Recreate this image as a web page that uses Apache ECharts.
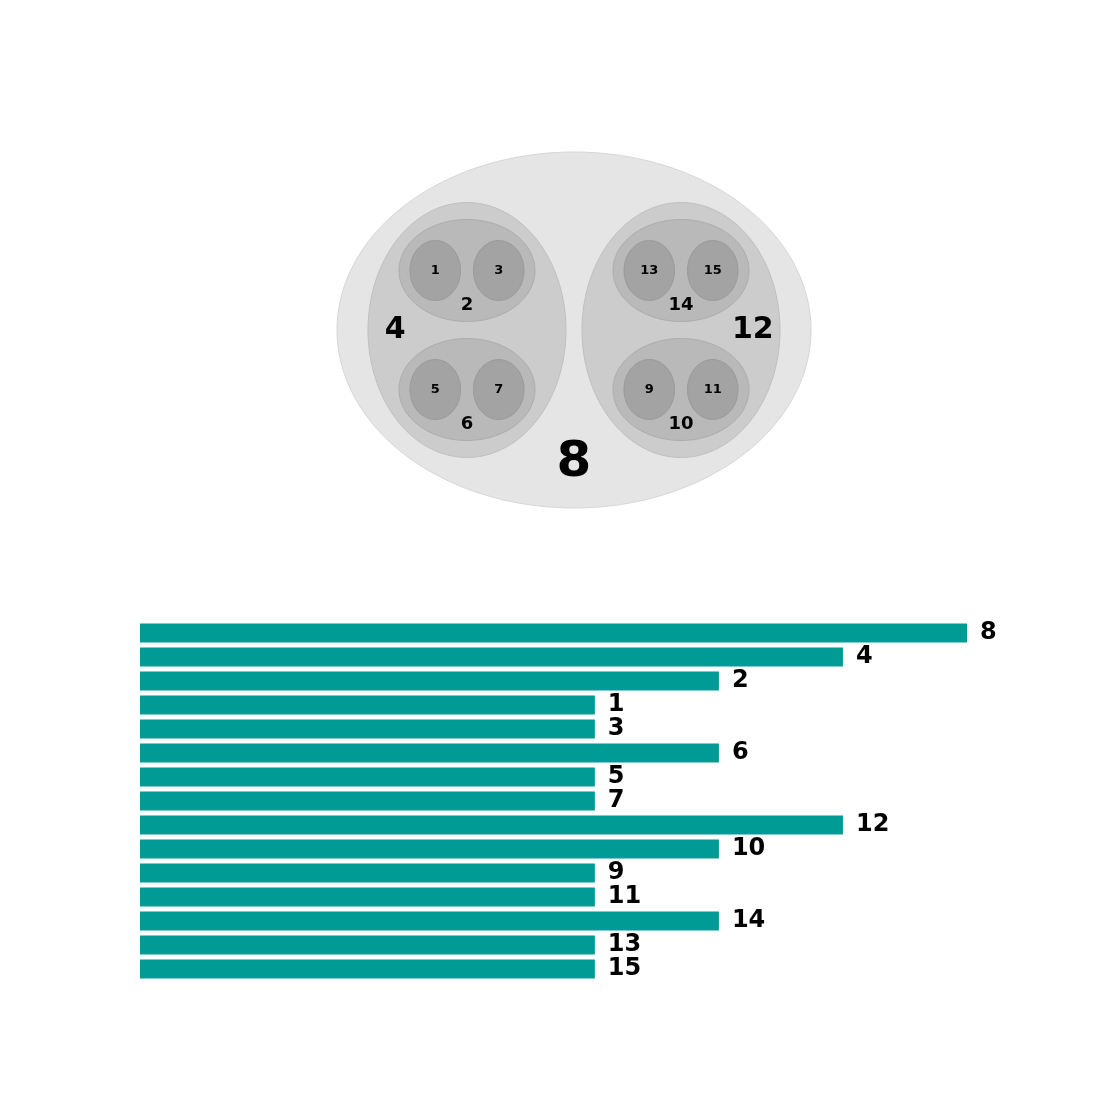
<!DOCTYPE html>
<html>
<head>
<meta charset="utf-8">
<script src="https://cdn.jsdelivr.net/npm/echarts@6/dist/echarts.min.js"></script>
<style>html,body{margin:0;padding:0;background:#fff;}#main{width:1120px;height:1120px;}</style>
</head>
<body>
<div id="main"></div>
<script>
// ---- data ----
const TREE_PARENTS = { '4': '8', '12': '8', '2': '4', '6': '4', '10': '12', '14': '12',
  '1': '2', '3': '2', '5': '6', '7': '6', '9': '10', '11': '10', '13': '14', '15': '14' };
const ROOT_NAME = '8';
const BAR_NAMES = ['8', '4', '2', '1', '3', '6', '5', '7', '12', '10', '9', '11', '14', '13', '15'];
const BAR_VALUES = [20, 17, 14, 11, 11, 14, 11, 11, 17, 14, 11, 11, 14, 11, 11];
const PACK_REVERSED = ['12'];

// ---- layout styling params ----
const PACK_W = 474, PACK_H = 356;
const PAD_ALONG = [0.0654, 0.0667, 0.0809];
const PAD_PERP = [0.1419, 0.1566, 0.206];
const PAD_GAP = [0.0338, 0.0667, 0.0956];
const LABEL_OFF = [0.745, 0.725, 0.69];
const FILLS = ['#e5e5e5', '#cccccc', '#b9b9b9', '#a3a3a3'];
const STROKES = ['#d6d6d6', '#c0c0c0', '#acacac', '#999999'];
const FONT_SIZES = [50, 30, 18, 13];

// build children lists in BAR_NAMES order
const children = {};
BAR_NAMES.forEach(n => { children[n] = []; });
BAR_NAMES.forEach(n => { const p = TREE_PARENTS[n]; if (p) children[p].push(n); });

const packNodes = [];
function layout(name, x0, y0, w, h, depth, parentCx) {
  const cx = x0 + w / 2, cy = y0 + h / 2, rx = w / 2, ry = h / 2;
  const kids = children[name].slice();
  let lx = cx, ly = cy;
  const splitX = depth % 2 === 0;
  if (kids.length) {
    const off = LABEL_OFF[depth];
    if (splitX) { ly = cy + off * ry; }
    else { const side = cx < parentCx ? -1 : 1; lx = cx + side * off * rx; }
  }
  packNodes.push({ name, value: [cx, cy, rx, ry, lx, ly, depth] });
  if (!kids.length) return;
  if (PACK_REVERSED.indexOf(name) >= 0) kids.reverse();
  const n = kids.length;
  if (splitX) {
    const gx0 = x0 + PAD_ALONG[depth] * w, gw = w * (1 - 2 * PAD_ALONG[depth]);
    const gy0 = y0 + PAD_PERP[depth] * h, gh = h * (1 - 2 * PAD_PERP[depth]);
    const gap = PAD_GAP[depth] * w;
    const cw = (gw - gap * (n - 1)) / n;
    kids.forEach((k, i) => layout(k, gx0 + i * (cw + gap), gy0, cw, gh, depth + 1, cx));
  } else {
    const gy0 = y0 + PAD_ALONG[depth] * h, gh = h * (1 - 2 * PAD_ALONG[depth]);
    const gx0 = x0 + PAD_PERP[depth] * w, gw = w * (1 - 2 * PAD_PERP[depth]);
    const gap = PAD_GAP[depth] * h;
    const ch = (gh - gap * (n - 1)) / n;
    kids.forEach((k, i) => layout(k, gx0, gy0 + i * (ch + gap), gw, ch, depth + 1, cx));
  }
}
layout(ROOT_NAME, 0, 0, PACK_W, PACK_H, 0, PACK_W / 2);

const chart = echarts.init(document.getElementById('main'));
const FONT = 'DejaVu Sans';
chart.setOption({
  animation: false,
  backgroundColor: '#ffffff',
  grid: [
    { left: 140, top: 621, width: 827, height: 360 },
    { left: 337, top: 152, width: PACK_W, height: PACK_H }
  ],
  xAxis: [
    { type: 'value', gridIndex: 0, min: 0, max: 20, show: false },
    { type: 'value', gridIndex: 1, min: 0, max: PACK_W, show: false }
  ],
  yAxis: [
    { type: 'category', gridIndex: 0, data: BAR_NAMES, inverse: true, show: false },
    { type: 'value', gridIndex: 1, min: 0, max: PACK_H, inverse: true, show: false }
  ],
  series: [
    {
      type: 'bar', xAxisIndex: 0, yAxisIndex: 0,
      data: BAR_VALUES, barWidth: 19,
      itemStyle: { color: '#009b95' },
      label: {
        show: true, position: 'right', distance: 13, offset: [0, 0],
        formatter: p => BAR_NAMES[p.dataIndex],
        fontFamily: FONT, fontWeight: 'bold', fontSize: 24, color: '#000'
      }
    },
    {
      type: 'custom', xAxisIndex: 1, yAxisIndex: 1, clip: false,
      dimensions: ['cx', 'cy', 'rx', 'ry', 'lx', 'ly', 'depth'],
      encode: { x: 0, y: 1 },
      data: packNodes,
      renderItem: function (params, api) {
        const cx = api.value(0), cy = api.value(1), rx = api.value(2), ry = api.value(3);
        const lx = api.value(4), ly = api.value(5), depth = api.value(6);
        const pts = [];
        const N = 160;
        for (let i = 0; i < N; i++) {
          const a = i / N * Math.PI * 2;
          pts.push(api.coord([cx + rx * Math.cos(a), cy + ry * Math.sin(a)]));
        }
        const lp = api.coord([lx, ly]);
        const name = packNodes[params.dataIndex].name;
        return {
          type: 'group',
          children: [
            { type: 'polygon', shape: { points: pts }, z2: depth * 2,
              style: { fill: FILLS[depth], stroke: STROKES[depth], lineWidth: 1 } },
            { type: 'text', x: lp[0], y: lp[1], z2: 100,
              style: { text: name, fill: '#000', fontFamily: FONT, fontWeight: 'bold',
                fontSize: FONT_SIZES[depth], align: 'center', verticalAlign: 'middle' } }
          ]
        };
      }
    }
  ]
});
</script>
</body>
</html>
